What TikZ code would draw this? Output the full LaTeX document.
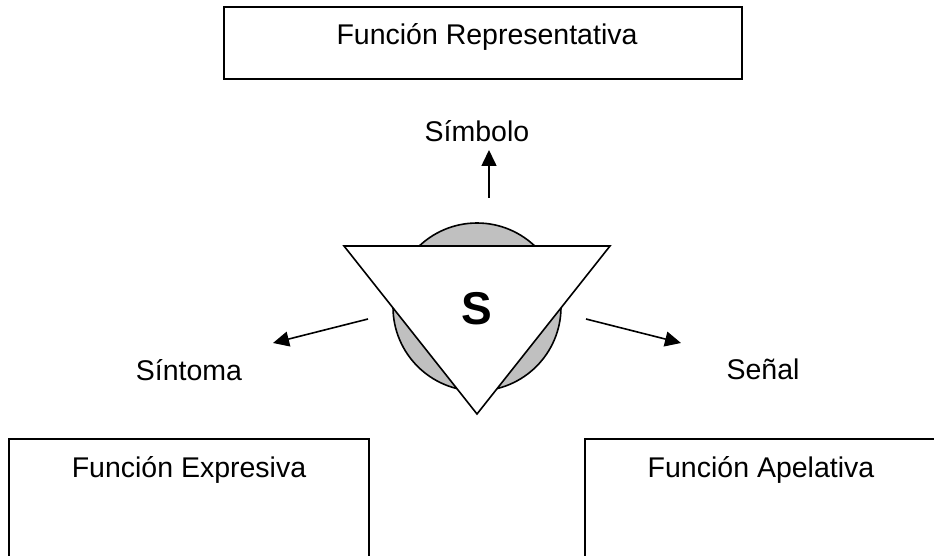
\documentclass[tikz,border=0pt]{standalone}
\usepackage{fontspec}
\setmainfont{Liberation Sans}
\usetikzlibrary{arrows.meta}
\definecolor{lgray}{RGB}{192,192,192}
\begin{document}
\begin{tikzpicture}[x=1pt,y=-1pt,
  lbl/.style={font=\fontsize{28.5}{34}\selectfont, inner sep=0pt, anchor=base},
  frame/.style={draw=black, line width=1.7pt},
  arr/.style={-{Triangle[length=16pt,width=15pt]}, line width=1.6pt}]
\useasboundingbox (0,0) rectangle (934,556);
\clip (0,0) rectangle (934,556);
% boxes
\draw[frame] (224,7) rectangle (742,79);
\draw[frame] (9,439) rectangle (369,600);
\draw[frame] (585,439) rectangle (940,600);
\node[lbl] (rep) at (487,45) {Función Representativa};
\node[lbl] (exp) at (189,477) {Función Expresiva};
\node[lbl] (ape) at (761,477) {Función Apelativa};
% central sign
\draw[line width=1.6pt, fill=lgray] (477,307) circle[radius=84];
\draw[line width=1.6pt, fill=white, line join=miter] (344,246) -- (610,246) -- (477,414) -- cycle;
\node[font=\fontsize{46}{50}\selectfont\bfseries, inner sep=0pt] (s) at (477,309) {S};
% labels
\node[lbl] (sim) at (477,142) {Símbolo};
\node[lbl] (sin) at (189,380) {Síntoma};
\node[lbl] (sen) at (763,379) {Señal};
% arrows
\coordinate (upA) at (489,198);
\coordinate (upB) at (489,150);
\coordinate (lA) at (368,319);
\coordinate (lB) at (273,343);
\coordinate (rA) at (586,319);
\coordinate (rB) at (681,343);
\draw[arr] (upA) -- (upB);
\draw[arr] (lA) -- (lB);
\draw[arr] (rA) -- (rB);
\end{tikzpicture}
\end{document}
